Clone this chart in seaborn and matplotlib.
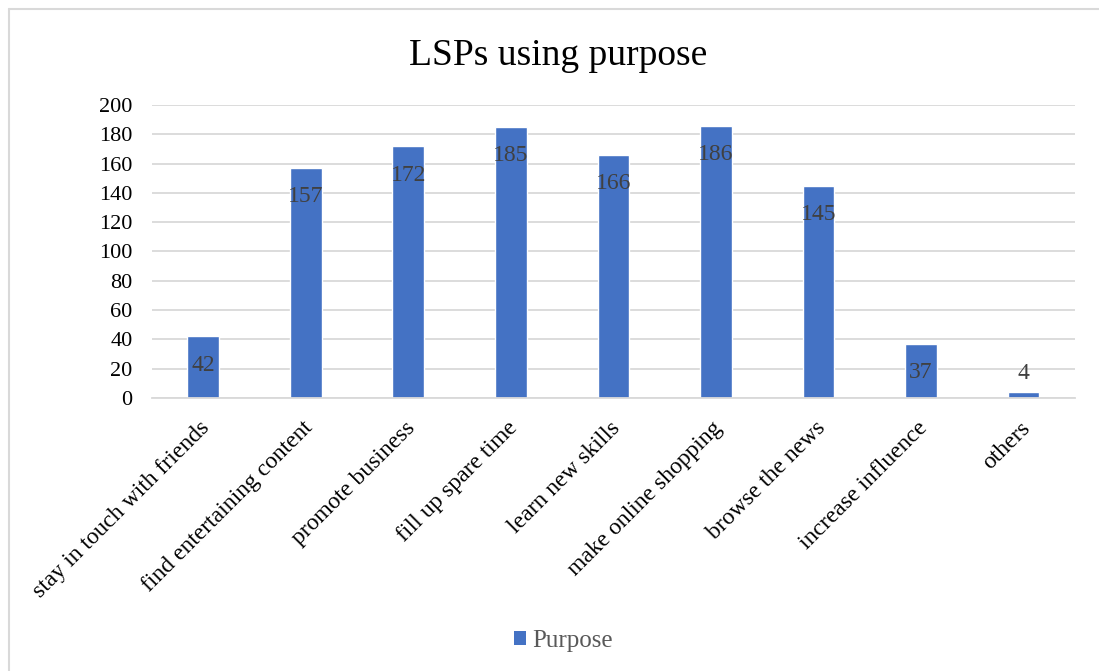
import matplotlib
matplotlib.use("Agg")
import matplotlib.pyplot as plt
import matplotlib.transforms as mtransforms
import seaborn as sns
import pandas as pd
from matplotlib.lines import Line2D
from matplotlib.patches import Patch

categories = [
    "stay in touch with friends",
    "find entertaining content",
    "promote business",
    "fill up spare time",
    "learn new skills",
    "make online shopping",
    "browse the news",
    "increase influence",
    "others",
]
counts = [42, 157, 172, 185, 166, 186, 145, 37, 4]
y_ticks = [0, 20, 40, 60, 80, 100, 120, 140, 160, 180, 200]
series_name = "Purpose"
title_text = "LSPs using purpose"

BAR_COLOR = "#4472C4"
GRID_COLOR = "#D9D9D9"

sns.set_theme(style="white")
plt.rcParams["font.family"] = ["Liberation Serif", "DejaVu Serif"]

df = pd.DataFrame({"category": categories, "count": counts})

fig = plt.figure(figsize=(10.99, 6.71), dpi=100)
ax = fig.add_axes([0.1383, 0.4069, 0.8397, 0.4366])

sns.barplot(data=df, x="category", y="count", color=BAR_COLOR, saturation=1,
            width=0.31, ax=ax, zorder=3)

ax.set_ylim(0, 200)
ax.set_xlim(-0.5, len(categories) - 0.5)
ax.set_yticks(y_ticks)
ax.yaxis.grid(True, color=GRID_COLOR, linewidth=1.3, zorder=0)
ax.xaxis.grid(False)
for s in ["top", "right", "left"]:
    ax.spines[s].set_visible(False)
ax.spines["bottom"].set_color(GRID_COLOR)
ax.spines["bottom"].set_linewidth(1.3)
ax.spines["bottom"].set_zorder(4)
ax.tick_params(axis="both", length=0, colors="black")
ax.tick_params(axis="y", pad=14, labelsize=16)
ax.tick_params(axis="x", pad=14, labelsize=17)
ax.set_xlabel("")
ax.set_ylabel("")
ax.set_xticks(range(len(categories)))
ax.set_xticklabels(categories, rotation=45, ha="right", va="top",
                   rotation_mode="anchor")
shift = mtransforms.ScaledTranslation(-4 / 100, 0, fig.dpi_scale_trans)
for lbl in ax.get_xticklabels():
    lbl.set_transform(lbl.get_transform() + shift)

# Value labels at the inside end of each bar; short bars get them just above
px_per_unit = ax.bbox.height / 200.0
for i, v in enumerate(counts):
    bar_px = v * px_per_unit
    if bar_px > 40:
        offset = -29 * 72 / 100
    else:
        offset = 19 * 72 / 100
    ax.annotate(str(v), xy=(i, v), xytext=(0, offset), textcoords="offset points",
                ha="center", va="center", fontsize=17, color="#404040", zorder=5)

fig.text(0.508, 1 - 65 / 671, title_text, ha="center", va="baseline",
         fontsize=27, color="black")

handle = Patch(facecolor=BAR_COLOR, edgecolor="none")
fig.legend([handle], [series_name], loc="center", bbox_to_anchor=(0.513, 1 - 641 / 671),
           frameon=False, fontsize=18, handlelength=0.48, handleheight=0.48,
           handletextpad=0.25, labelcolor="#595959")

# Chart-area frame
fig.add_artist(Line2D([9 / 1099, 1.0], [1 - 9 / 671, 1 - 9 / 671],
                      transform=fig.transFigure, color="#D9D9D9", linewidth=1.5))
fig.add_artist(Line2D([9 / 1099, 9 / 1099], [0.0, 1 - 9 / 671],
                      transform=fig.transFigure, color="#D9D9D9", linewidth=1.5))

fig.savefig("out.png", dpi=100)
